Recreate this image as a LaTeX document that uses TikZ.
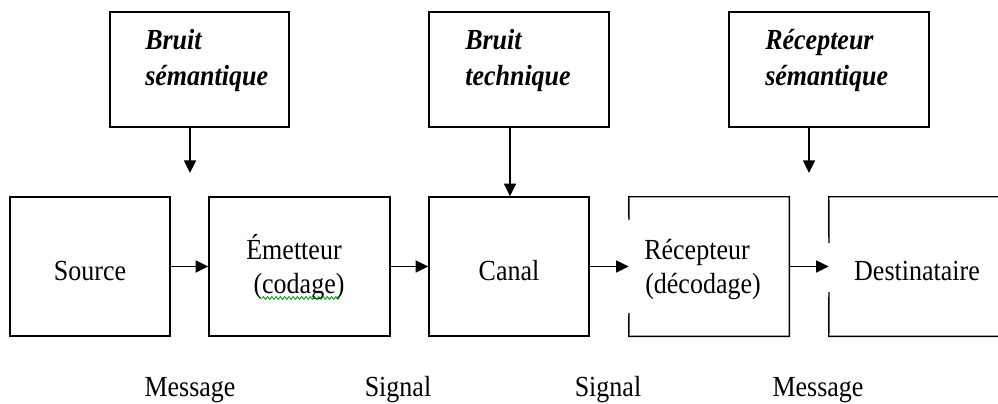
\documentclass[tikz,border=0pt]{standalone}
\usepackage{fontspec}
\setmainfont{Liberation Serif}
\usetikzlibrary{arrows.meta,fit,decorations.pathmorphing}
\newcommand\tallt[1]{\scalebox{1}[1.12]{#1}}
\begin{document}
\begin{tikzpicture}[x=0.75pt,y=-0.75pt,
  box/.style={draw,line width=1.1pt,inner sep=0pt,fit={#1}},
  hidbox/.style={inner sep=0pt,fit={#1}},
  border/.style={line width=1.1pt},
  flow/.style={line width=1.1pt,-{Triangle[length=9.5pt,width=9pt]}},
  lab/.style={font=\fontsize{19.5}{23}\selectfont,anchor=base,inner sep=0pt},
  noise/.style={font=\fontsize{19.5}{23}\selectfont\bfseries\itshape,anchor=base west,inner sep=0pt},
  spell/.style={draw=green!60!black,line width=0.6pt,decorate,decoration={snake,amplitude=1.1pt,segment length=3.2pt}}
]
\useasboundingbox (0,0) rectangle (998,403);
% top boxes
\node[box={(110,12)(289,127)}] (bs) {};
\node[box={(429,12)(609,127)}] (bt) {};
\node[box={(729,12)(929,127)}] (rs) {};
\node[noise] at (145,50) {\tallt{Bruit}};
\node[noise] at (145,85) {\tallt{sémantique}};
\node[noise] at (465,50) {\tallt{Bruit}};
\node[noise] at (465,85) {\tallt{technique}};
\node[noise] at (765,50) {\tallt{Récepteur}};
\node[noise] at (765,85) {\tallt{sémantique}};
% bottom boxes
\node[box={(10,197)(170,336)}] (src) {};
\node[box={(209,197)(390,336)}] (em) {};
\node[box={(429,197)(589,336)}] (can) {};
\node[hidbox={(629,197)(789,336)}] (rec) {};
\node[hidbox={(829,197)(1010,336)}] (dst) {};
\draw[border] (629,220) -- (rec.north west) -- (rec.north east) -- (rec.south east) -- (rec.south west) -- (629,313);
\draw[border] (829,243) -- (dst.north west) -- (dst.north east);
\draw[border] (829,292) -- (dst.south west) -- (dst.south east);
% texts
\node[lab] at (90,280) {\tallt{Source}};
\node[lab] at (294,259) {\tallt{Émetteur}};
\node[lab] (cod) at (299,293) {\tallt{(codage)}};
\draw[spell] (262,298) -- (340,298);
\node[lab] at (509,280) {\tallt{Canal}};
\node[lab] at (697,259) {\tallt{Récepteur}};
\node[lab] at (703,293) {\tallt{(décodage)}};
\node[lab] at (917,280) {\tallt{Destinataire}};
\node[lab] at (190,396) {\tallt{Message}};
\node[lab] at (398,396) {\tallt{Signal}};
\node[lab] at (608,396) {\tallt{Signal}};
\node[lab] at (818,396) {\tallt{Message}};
% connectors
\coordinate (t1) at (190,173);
\coordinate (t3) at (809,173);
\draw[flow] (bs.south -| t1) -- (t1);
\draw[flow] (bt.south -| 510,0) -- (can.north -| 510,0);
\draw[flow] (rs.south -| t3) -- (t3);
\draw[flow] (src.east) -- (em.west);
\draw[flow] (em.east) -- (can.west);
\draw[flow] (can.east) -- (can.east -| rec.west);
\draw[flow] (rec.east) -- (rec.east -| dst.west);
\end{tikzpicture}
\end{document}
